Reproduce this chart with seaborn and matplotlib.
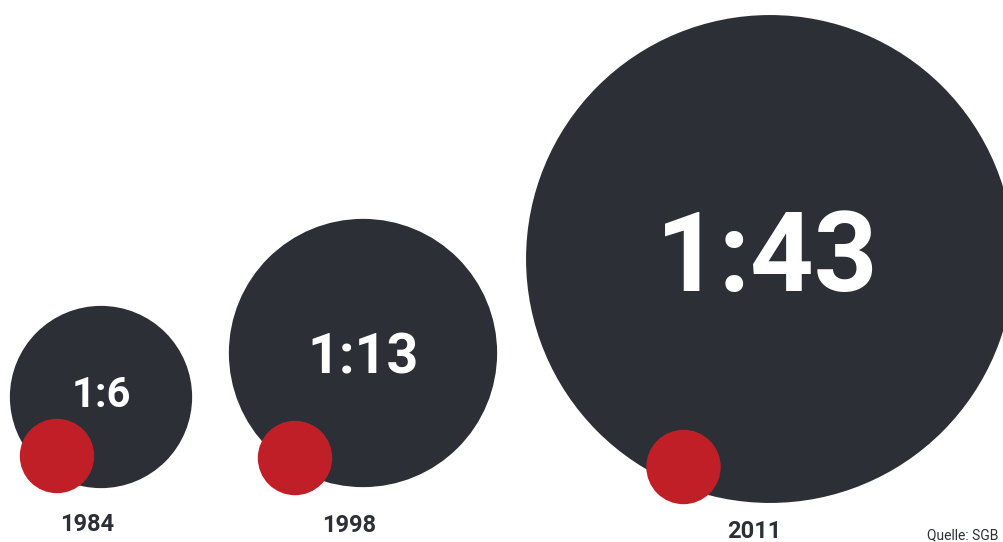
import matplotlib
matplotlib.use("Agg")
import matplotlib.pyplot as plt
import seaborn as sns
import pandas as pd

# ---- data ----
years = ["1984", "1998", "2011"]
ratios = [6, 13, 43]          # 1 : N
ratio_labels = ["1:6", "1:13", "1:43"]
source = "Quelle: SGB"

# ---- layout (pixel coordinates) ----
W, H = 1004, 542
big_x = [101, 363, 770]
big_y = [397, 353, 259]
red_x = [57, 295, 683.5]
red_y = [456, 458, 467]
ratio_font = [30, 40, 80]
ratio_base = [407, 373, 291]
year_x = [87, 349, 754]
year_base = [531, 532, 538]

dark = "#2c2f36"
red = "#c11f28"
unit_area = 2870  # points^2 per unit of ratio (red circle = 1)

sns.set_theme(style="white")
plt.rcParams["font.family"] = ["Roboto", "DejaVu Sans"]

fig = plt.figure(figsize=(W / 100, H / 100), dpi=100)
ax = fig.add_axes([0, 0, 1, 1])

df_big = pd.DataFrame({"x": big_x, "y": big_y, "ratio": ratios, "year": years})
df_red = pd.DataFrame({"x": red_x, "y": red_y, "ratio": [1] * len(years), "year": years})

sns.scatterplot(data=df_big, x="x", y="y", size="ratio",
                sizes=(0, unit_area * max(ratios)), size_norm=(0, max(ratios)),
                color=dark, linewidth=0, alpha=1, legend=False, ax=ax, zorder=1)
sns.scatterplot(data=df_red, x="x", y="y", size="ratio",
                sizes=(0, unit_area), size_norm=(0, 1),
                color=red, linewidth=0, alpha=1, legend=False, ax=ax, zorder=2)

for i in range(len(years)):
    ax.text(big_x[i] - (3 if i == 2 else 0), ratio_base[i], ratio_labels[i], color="white",
            fontsize=ratio_font[i], fontweight="bold", ha="center",
            va="baseline", zorder=3)
    ax.text(year_x[i], year_base[i], years[i], color=dark, fontsize=17,
            fontweight="bold", ha="center", va="baseline", zorder=3)

ax.text(927, 539, source, color=dark, fontsize=10, ha="left", va="baseline")

ax.set_xlim(0, W)
ax.set_ylim(H, 0)
ax.set_axis_off()
fig.patch.set_facecolor("white")
fig.savefig("out.png", dpi=100, facecolor="white")
